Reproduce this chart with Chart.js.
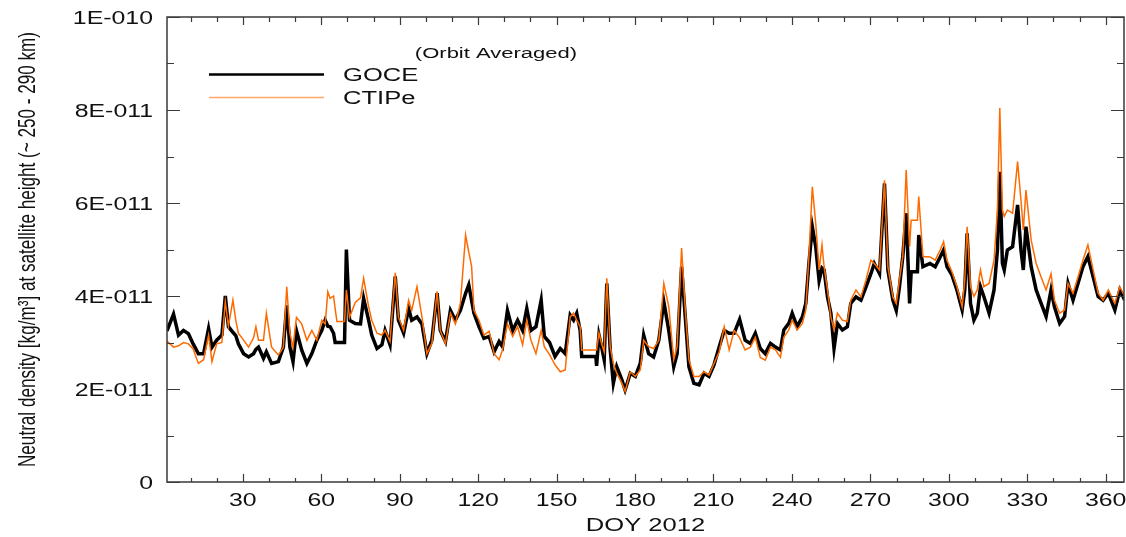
<!DOCTYPE html>
<html>
<head>
<meta charset="utf-8">
<title>GOCE vs CTIPe neutral density 2012</title>
<script src="https://cdn.jsdelivr.net/npm/chart.js@4.4.1/dist/chart.umd.min.js"></script>
<style>
    html, body { margin: 0; padding: 0; background: #fff; }
    #wrap { width: 1126px; height: 537px; }
</style>
</head>
<body>
<div id="wrap"><canvas id="densityChart" width="1126" height="537"></canvas></div>
<script>
// Day of year 2012 (orbit averaged samples)
const doy = [
    1, 3.5, 5.4, 7.3, 9.2, 11, 13, 15, 16.9, 18.2, 20, 22, 23.3, 24.5, 26.2, 27.3, 28.3, 30.3,
    32.2, 34.1, 35, 36, 37.9, 39, 41, 43.6, 45.5, 46.8, 48, 49.2, 50.5, 52.5, 54.5, 56.4, 58.3,
    60.2, 61.5, 62.5, 63.4, 64.7, 65.3, 66, 68.9, 69.6, 70.8, 73, 75, 76.2, 78.1, 79.3, 81.3,
    83.2, 84.4, 86.3, 88.3, 89.5, 91.5, 93.4, 94.6, 96.6, 98.5, 100.4, 102.3, 104.3, 105.5,
    107.5, 109.4, 111.3, 113.2, 115.2, 116.4, 117.5, 118.4, 120.3, 122.2, 124.2, 126.1, 128,
    129.3, 131.2, 133.2, 135.1, 137, 138.6, 140.2, 142.1, 144.1, 145.3, 147.3, 149.4, 151.4,
    153.3, 155.2, 156.5, 157.7, 159, 159.6, 165, 165.3, 166.2, 167.2, 168.2, 169.2, 170.5,
    171.7, 173, 175, 176.2, 178.2, 180.1, 182, 183.3, 185.2, 187.1, 189.1, 191, 192.9, 194.8,
    196.1, 197.8, 199.3, 200.6, 202.5, 204.5, 206.4, 208.3, 210.2, 212.2, 214.1, 216, 217.9,
    220, 222.1, 224.1, 226, 227.9, 229.8, 231.8, 233.7, 235.6, 236.9, 238.8, 240.1, 242, 244,
    245.3, 246.5, 247.8, 249.1, 250.4, 251.5, 252.3, 253.6, 254.9, 256.1, 257.4, 259.3, 261.2,
    262.5, 264.5, 266.4, 268.3, 270.2, 271.5, 273.5, 275.4, 276.7, 278.6, 279.9, 281.1, 282.4,
    283.7, 285, 285.6, 288, 288.5, 290.1, 292.8, 294.8, 296.7, 298, 299.3, 301.2, 303.1, 305.1,
    306.1, 307, 308.3, 309.6, 310.9, 312.1, 313.4, 315.4, 317.3, 318.6, 319.5, 320.5, 321.2,
    322.4, 324.4, 326.3, 327.6, 328.5, 329.5, 331.5, 333.4, 335.3, 337.2, 339.1, 340.4, 342.4,
    344.3, 345.6, 347.5, 349.4, 351.3, 353.2, 355.2, 357.1, 359, 361, 363.5, 365.4, 367.3
];

// GOCE density, units of 1E-011 kg/m3
const goceDensity = [
    32.5, 36.1, 31.6, 32.6, 31.9, 29.7, 27.6, 27.6, 33.0, 29.0, 30.5, 31.6, 40.0, 33.4, 32.2, 31.5, 29.7, 27.6,
    26.9, 27.6, 28.5, 29.0, 26.6, 28.0, 25.5, 25.9, 29.0, 38.0, 29.0, 25.9, 32.6, 28.4, 25.5, 27.6, 30.5,
    32.6, 34.8, 33.5, 33.4, 32.0, 30.0, 30.0, 30.0, 50.0, 34.8, 34.1, 34.0, 39.5, 34.8, 31.6, 28.7,
    29.5, 32.6, 29.5, 44.2, 34.8, 32.0, 37.3, 34.8, 35.5, 34.0, 27.6, 30.5, 40.6, 32.6,
    30.2, 36.9, 34.8, 36.9, 40.6, 42.4, 39.0, 36.3, 33.4, 30.9, 31.3, 28.0, 30.2,
    29.1, 36.9, 32.6, 34.8, 32.6, 37.3, 32.6, 33.4, 39.1, 31.3, 30.0, 27.0, 28.7,
    27.6, 35.9, 34.8, 36.3, 32.6, 27.0, 27.0, 25.0, 31.6, 29.1, 26.3, 42.7, 28.4,
    21.2, 24.8, 21.9, 19.8, 23.4, 22.7, 25.5, 31.6, 27.6, 26.9, 30.5, 38.8, 32.6, 24.8,
    27.6, 46.3, 34.8, 24.8, 21.2, 20.9, 23.4, 22.7, 25.2, 29.1, 32.6, 32.0, 32.0,
    35.0, 30.5, 29.8, 32.0, 28.7, 27.6, 29.8, 29.0, 28.4, 32.7, 34.1, 36.3, 33.4, 35.5,
    38.4, 47.0, 54.9, 50.6, 43.3, 46.0, 45.6, 39.8, 36.3, 28.7, 34.1, 32.7, 33.4,
    38.4, 39.8, 39.1, 41.9, 44.8, 47.0, 44.8, 64.2, 45.6, 39.1, 36.9, 41.9, 48.5,
    57.8, 38.4, 45.2, 45.2, 53.1, 46.3, 47.0, 46.3, 48.4, 49.9, 46.3, 44.5, 41.3, 37.0,
    41.3, 53.5, 38.4, 34.8, 36.3, 42.0, 39.9, 36.3, 41.3, 49.9, 66.7, 47.0, 45.6,
    49.9, 50.6, 59.6, 49.9, 45.6, 54.9, 46.3, 41.3, 38.4, 35.6, 41.3, 37.7, 34.1,
    35.6, 42.7, 39.1, 42.7, 46.3, 48.5, 44.1, 39.9, 39.1, 40.6, 37.0, 41.3, 39.1
];

// CTIPe model density, units of 1E-011 kg/m3
const ctipeDensity = [
    30.3, 29.0, 29.3, 30.0, 29.7, 28.6, 25.5, 26.3, 31.6, 25.9, 29.7, 30.0, 38.8, 33.5, 39.1, 34.8, 32.0, 30.5,
    29.0, 31.0, 33.4, 30.5, 30.5, 36.3, 29.0, 27.3, 29.0, 42.0, 32.0, 29.0, 35.4, 34.0, 30.5, 32.6, 30.5,
    34.8, 34.0, 40.9, 39.5, 40.0, 37.3, 34.5, 34.5, 41.3, 35.4, 38.6, 39.6, 43.8, 37.7, 34.8, 32.0,
    31.6, 32.6, 30.2, 45.0, 35.5, 32.6, 39.1, 36.9, 42.0, 35.5, 27.6, 29.8, 41.0, 32.6,
    29.8, 36.3, 34.0, 38.4, 53.1, 49.5, 46.3, 36.9, 34.8, 31.6, 32.4, 27.6, 26.3,
    28.4, 34.0, 31.3, 33.4, 29.5, 34.8, 30.5, 27.6, 32.6, 29.1, 27.4, 25.2, 23.7,
    24.1, 35.5, 36.3, 34.8, 33.4, 28.4, 28.4, 28.4, 32.0, 29.8, 28.0, 43.8, 29.1,
    25.5, 23.4, 21.2, 19.5, 23.7, 22.7, 24.1, 30.5, 29.1, 28.7, 30.5, 42.7, 37.7, 26.3,
    29.1, 50.3, 36.3, 26.3, 22.7, 22.7, 23.7, 23.0, 25.5, 28.0, 33.4, 28.4, 32.6,
    31.0, 28.4, 29.0, 31.1, 26.8, 26.2, 29.0, 28.4, 26.8, 31.1, 32.7, 34.8, 32.7, 34.1,
    37.0, 48.5, 63.5, 55.6, 45.6, 51.0, 46.3, 41.3, 35.5, 32.7, 36.3, 34.8, 34.5,
    39.1, 41.3, 39.8, 43.4, 47.7, 47.0, 45.6, 64.9, 46.3, 39.8, 38.4, 43.4, 48.5,
    67.1, 50.6, 56.3, 56.3, 61.4, 48.5, 48.4, 47.7, 49.9, 51.7, 47.7, 45.2, 42.0, 37.7,
    43.4, 54.9, 42.0, 39.9, 41.3, 45.6, 42.0, 42.7, 47.7, 58.5, 80.4, 58.5, 57.1,
    58.5, 57.8, 68.9, 60.6, 54.2, 62.8, 52.0, 47.0, 44.1, 41.3, 44.8, 39.1, 36.3,
    37.0, 42.7, 40.6, 44.1, 47.7, 51.0, 45.6, 40.6, 39.1, 41.3, 38.4, 42.0, 39.9
];

// Axis ticks
const xMajorTicks = [30, 60, 90, 120, 150, 180, 210, 240, 270, 300, 330, 360];
const xMinorTicks = [10, 20, 40, 50, 70, 80, 100, 110, 130, 140, 160, 170, 190, 200,
    220, 230, 250, 260, 280, 290, 310, 320, 340, 350];
const yMajorTicks = [0, 20, 40, 60, 80, 100];
const yTickLabels = ['0', '2E-011', '4E-011', '6E-011', '8E-011', '1E-010'];
const yMinorTicks = [10, 30, 50, 70, 90];

const FONT = '"Liberation Sans", Arial, sans-serif';
const STRETCH = 1.42; // the original picture is wider than tall in its glyphs

function wideText(ctx, text, x, y, align, size) {
    ctx.save();
    ctx.translate(x, y);
    ctx.scale(STRETCH, 1);
    ctx.font = size + 'px ' + FONT;
    ctx.textAlign = align;
    ctx.textBaseline = 'alphabetic';
    ctx.fillText(text, 0, 0);
    ctx.restore();
}

// frame, inward ticks, labels and legend
const framePlugin = {
    id: 'framePlugin',
    afterDraw(chart) {
        const ctx = chart.ctx;
        const a = chart.chartArea;
        const xs = chart.scales.x;
        const ys = chart.scales.y;

        ctx.save();
        ctx.strokeStyle = '#3a3a3a';
        ctx.lineWidth = 1.5;
        ctx.strokeRect(a.left, a.top, a.right - a.left, a.bottom - a.top);

        ctx.lineWidth = 1.2;
        ctx.beginPath();
        xMinorTicks.forEach(function(v) {
            const px = Math.round(xs.getPixelForValue(v)) + 0.5;
            ctx.moveTo(px, a.bottom); ctx.lineTo(px, a.bottom - 4);
            ctx.moveTo(px, a.top); ctx.lineTo(px, a.top + 5);
        });
        xMajorTicks.forEach(function(v) {
            const px = Math.round(xs.getPixelForValue(v)) + 0.5;
            ctx.moveTo(px, a.bottom); ctx.lineTo(px, a.bottom - 8);
            ctx.moveTo(px, a.top); ctx.lineTo(px, a.top + 8);
        });
        yMinorTicks.forEach(function(v) {
            const py = Math.round(ys.getPixelForValue(v)) + 0.5;
            ctx.moveTo(a.left, py); ctx.lineTo(a.left + 7, py);
            ctx.moveTo(a.right, py); ctx.lineTo(a.right - 7, py);
        });
        yMajorTicks.forEach(function(v) {
            const py = Math.round(ys.getPixelForValue(v)) + 0.5;
            ctx.moveTo(a.left, py); ctx.lineTo(a.left + 13, py);
            ctx.moveTo(a.right, py); ctx.lineTo(a.right - 13, py);
        });
        ctx.stroke();

        ctx.fillStyle = '#111';
        xMajorTicks.forEach(function(v) {
            wideText(ctx, String(v), xs.getPixelForValue(v), a.bottom + 24, 'center', 17.5);
        });
        yMajorTicks.forEach(function(v, i) {
            wideText(ctx, yTickLabels[i], a.left - 14, ys.getPixelForValue(v) + 6.5, 'right', 17.5);
        });

        // axis titles
        wideText(ctx, 'DOY 2012', (a.left + a.right) / 2, 531, 'center', 18);

        const yTitle = 'Neutral density [kg/m\u00B3] at satellite height (~ 250 - 290 km)';
        ctx.save();
        ctx.font = '17px ' + FONT;
        const w = ctx.measureText(yTitle).width;
        ctx.translate(35, (a.top + a.bottom) / 2);
        ctx.rotate(-Math.PI / 2);
        ctx.scale(435 / w, STRETCH);
        ctx.textAlign = 'center';
        ctx.textBaseline = 'alphabetic';
        ctx.fillText(yTitle, 0, 0);
        ctx.restore();

        // legend
        wideText(ctx, '(Orbit Averaged)', 496, 57.5, 'center', 15.5);
        ctx.strokeStyle = '#000';
        ctx.lineWidth = 2.5;
        ctx.beginPath(); ctx.moveTo(209, 74.5); ctx.lineTo(324, 74.5); ctx.stroke();
        ctx.strokeStyle = '#ff8a3a';
        ctx.lineWidth = 1.3;
        ctx.globalAlpha = 0.75;
        ctx.beginPath(); ctx.moveTo(209, 97.5); ctx.lineTo(324, 97.5); ctx.stroke();
        ctx.globalAlpha = 1;
        wideText(ctx, 'GOCE', 343, 81, 'left', 18);
        wideText(ctx, 'CTIPe', 343, 104, 'left', 18);
        ctx.restore();
    }
};

const ctx = document.getElementById('densityChart');
new Chart(ctx, {
    type: 'line',
    data: {
        datasets: [{
            label: 'GOCE',
            data: doy.map((d, i) => ({ x: d, y: goceDensity[i] })),
            borderColor: '#000000',
            borderWidth: 3.5,
            borderJoinStyle: 'miter',
            pointRadius: 0,
            tension: 0,
            fill: false,
            order: 2
        }, {
            label: 'CTIPe',
            data: doy.map((d, i) => ({ x: d, y: ctipeDensity[i] })),
            borderColor: '#ff6a00',
            borderWidth: 1.5,
            pointRadius: 0,
            tension: 0,
            fill: false,
            order: 1
        }]
    },
    options: {
        responsive: false,
        animation: false,
        devicePixelRatio: 1,
        layout: { padding: { left: 167, right: 2, top: 17, bottom: 55 } },
        scales: {
            x: { type: 'linear', min: 1, max: 367, display: false },
            y: { type: 'linear', min: 0, max: 100, display: false }
        },
        plugins: {
            legend: { display: false },
            tooltip: { enabled: false }
        }
    },
    plugins: [framePlugin]
});
</script>
</body>
</html>
